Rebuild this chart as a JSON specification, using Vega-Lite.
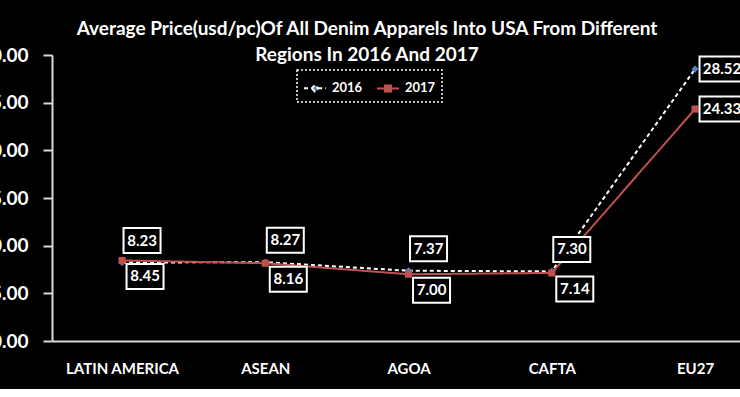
{
  "$schema": "https://vega.github.io/schema/vega-lite/v6.json",
  "width": 688,
  "height": 286,
  "autosize": {"type": "none"},
  "padding": {"left": 52, "top": 55, "right": 0, "bottom": 48},
  "background": "black",
  "title": {
    "text": ["Average Price(usd/pc)Of All Denim Apparels Into USA From Different", "Regions In 2016 And 2017"],
    "color": "white", "font": "Lato", "fontSize": 19, "fontWeight": "bold",
    "anchor": "middle", "frame": "group", "dx": -29, "offset": -34, "lineHeight": 26, "baseline": "alphabetic"
  },
  "data": {
    "values": [
      {"region": "LATIN AMERICA", "year": "2016", "value": 8.23},
      {"region": "ASEAN", "year": "2016", "value": 8.27},
      {"region": "AGOA", "year": "2016", "value": 7.37},
      {"region": "CAFTA", "year": "2016", "value": 7.30},
      {"region": "EU27", "year": "2016", "value": 28.52},
      {"region": "LATIN AMERICA", "year": "2017", "value": 8.45},
      {"region": "ASEAN", "year": "2017", "value": 8.16},
      {"region": "AGOA", "year": "2017", "value": 7.00},
      {"region": "CAFTA", "year": "2017", "value": 7.14},
      {"region": "EU27", "year": "2017", "value": 24.33}
    ]
  },
  "encoding": {
    "x": {
      "field": "region", "type": "nominal",
      "sort": ["LATIN AMERICA", "ASEAN", "AGOA", "CAFTA", "EU27"],
      "scale": {"type": "point", "padding": 0.4014, "align": 0.609},
      "axis": {
        "title": null, "labelAngle": 0, "ticks": false, "labelPadding": 20,
        "labelFont": "Lato", "labelFontSize": 15, "labelFontWeight": "bold", "labelColor": "white",
        "domainColor": "#d9d9d9", "domainWidth": 2, "grid": false
      }
    },
    "y": {
      "field": "value", "type": "quantitative",
      "scale": {"domain": [0, 30], "nice": false},
      "axis": {
        "title": null, "values": [0, 5, 10, 15, 20, 25, 30], "format": ".2f",
        "labelFont": "Lato", "labelFontSize": 19, "labelFontWeight": "bold", "labelColor": "white",
        "labelPadding": 15, "tickSize": 9, "tickColor": "#d9d9d9", "tickWidth": 2,
        "domainColor": "#d9d9d9", "domainWidth": 2, "grid": false
      }
    }
  },
  "layer": [
    {
      "mark": {"type": "line", "strokeWidth": 2},
      "encoding": {
        "color": {
          "field": "year", "type": "nominal",
          "scale": {"domain": ["2016", "2017"], "range": ["#FFFFFF", "#C0504D"]},
          "legend": {
            "encode": {
              "symbols": {
                "update": {
                  "shape": {"signal": "datum.value === '2016' ? 'M-1,0H-0.3M0.3,0H1M-0.3,0L0,-0.3L0.3,0L0,0.3Z' : 'M-1,0H1M-0.28,-0.28H0.28V0.28H-0.28Z'"},
                  "fill": {"signal": "datum.value === '2016' ? '#4F81BD' : '#C0504D'"}
                }
              }
            }
          }
        },
        "strokeDash": {
          "field": "year", "type": "nominal",
          "scale": {"domain": ["2016", "2017"], "range": [[4, 3], [1, 0]]}
        }
      }
    },
    {
      "transform": [{"filter": "datum.year === '2016'"}],
      "mark": {"type": "point", "shape": "diamond", "filled": true, "size": 50, "opacity": 1, "strokeWidth": 0, "fill": "#4F81BD"}
    },
    {
      "transform": [{"filter": "datum.year === '2017'"}],
      "mark": {"type": "point", "shape": "square", "filled": true, "size": 50, "opacity": 1, "strokeWidth": 0, "fill": "#C0504D"}
    },
    {
      "transform": [{"filter": "datum.year === '2016' && datum.region !== 'EU27'"}],
      "mark": {"type": "point", "shape": "M-1,-0.676H1V0.676H-1Z", "size": 1369, "filled": true, "fill": "black", "stroke": "white", "strokeWidth": 2, "opacity": 1, "xOffset": 20, "yOffset": -22}
    },
    {
      "transform": [{"filter": "datum.year === '2016' && datum.region !== 'EU27'"}],
      "mark": {"type": "text", "font": "Lato", "fontSize": 15, "fontWeight": "bold", "color": "white", "dx": 20, "dy": -22, "baseline": "middle"},
      "encoding": {"text": {"field": "value", "type": "quantitative", "format": ".2f"}}
    },
    {
      "transform": [{"filter": "datum.year === '2017' && datum.region !== 'EU27'"}],
      "mark": {"type": "point", "shape": "M-1,-0.676H1V0.676H-1Z", "size": 1369, "filled": true, "fill": "black", "stroke": "white", "strokeWidth": 2, "opacity": 1, "xOffset": 23, "yOffset": 16}
    },
    {
      "transform": [{"filter": "datum.year === '2017' && datum.region !== 'EU27'"}],
      "mark": {"type": "text", "font": "Lato", "fontSize": 15, "fontWeight": "bold", "color": "white", "dx": 23, "dy": 16, "baseline": "middle"},
      "encoding": {"text": {"field": "value", "type": "quantitative", "format": ".2f"}}
    },
    {
      "transform": [{"filter": "datum.region === 'EU27'"}],
      "mark": {"type": "point", "shape": "M-1,-0.556H1V0.556H-1Z", "size": 2025, "filled": true, "fill": "black", "stroke": "white", "strokeWidth": 2, "opacity": 1, "xOffset": 27, "yOffset": 0}
    },
    {
      "transform": [{"filter": "datum.region === 'EU27'"}],
      "mark": {"type": "text", "font": "Lato", "fontSize": 15, "fontWeight": "bold", "color": "white", "dx": 27, "dy": 0, "baseline": "middle"},
      "encoding": {"text": {"field": "value", "type": "quantitative", "format": ".2f"}}
    }
  ],
  "config": {
    "view": {"stroke": null},
    "legend": {
      "orient": "none", "legendX": 245, "legendY": 15, "direction": "horizontal", "title": null,
      "strokeColor": "white", "strokeDash": [2, 2], "strokeWidth": 1.5, "fillColor": "black", "padding": 6,
      "labelColor": "white", "labelFont": "Lato", "labelFontSize": 13, "labelFontWeight": "bold",
      "symbolSize": 484, "symbolStrokeWidth": 2, "labelOffset": 5, "columnPadding": 10
    }
  }
}
